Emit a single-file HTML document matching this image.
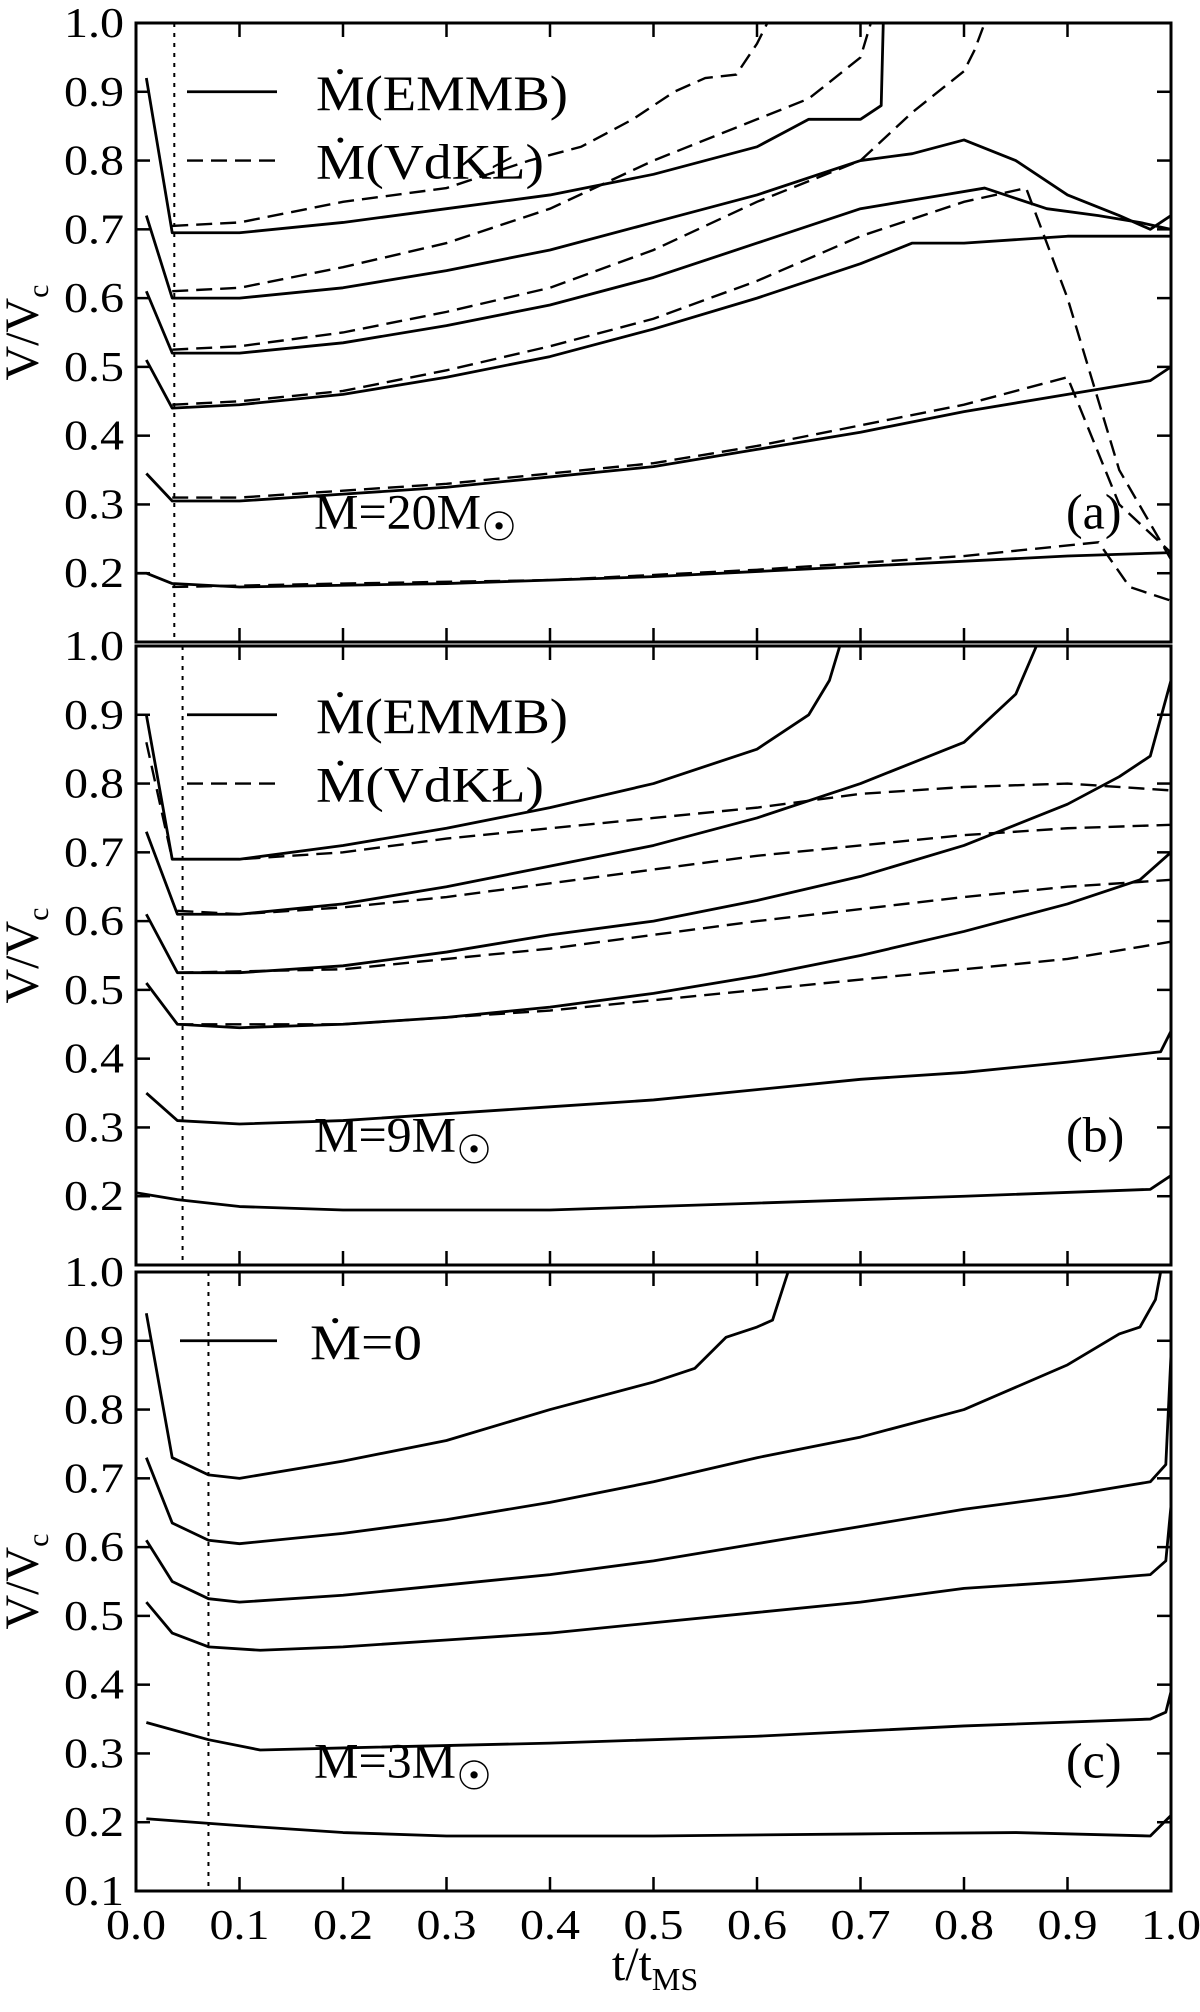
<!DOCTYPE html>
<html><head><meta charset="utf-8"><style>
html,body{margin:0;padding:0;background:#fff;}
svg{display:block;font-family:"Liberation Serif",serif;}
</style></head><body>
<svg id="chart" width="1200" height="2012" viewBox="0 0 1200 2012" xmlns="http://www.w3.org/2000/svg"></svg>
<script>
const xTicks=[0,0.1,0.2,0.3,0.4,0.5,0.6,0.7,0.8,0.9,1.0];
const xTickLabels=["0.0","0.1","0.2","0.3","0.4","0.5","0.6","0.7","0.8","0.9","1.0"];
const yTicks=[0.1,0.2,0.3,0.4,0.5,0.6,0.7,0.8,0.9,1.0];
const yTickLabels=["0.1","0.2","0.3","0.4","0.5","0.6","0.7","0.8","0.9","1.0"];
const panelNames=["a","b","c"];
const panelMass=["20","9","3"];
const dottedX=[0.037,0.045,0.07];
const aSolid=[
[[0.01,0.92],[0.035,0.695],[0.1,0.695],[0.2,0.71],[0.3,0.73],[0.4,0.75],[0.5,0.78],[0.6,0.82],[0.65,0.86],[0.7,0.86],[0.72,0.88],[0.722,1.0]],
[[0.01,0.72],[0.035,0.60],[0.1,0.6],[0.2,0.615],[0.3,0.64],[0.4,0.67],[0.5,0.71],[0.6,0.75],[0.7,0.80],[0.75,0.81],[0.8,0.83],[0.85,0.8],[0.9,0.75],[0.95,0.72],[0.98,0.70],[1.0,0.72]],
[[0.01,0.61],[0.035,0.52],[0.1,0.52],[0.2,0.535],[0.3,0.56],[0.4,0.59],[0.5,0.63],[0.6,0.68],[0.7,0.73],[0.78,0.75],[0.82,0.76],[0.88,0.73],[0.93,0.72],[0.97,0.71],[1.0,0.70]],
[[0.01,0.51],[0.035,0.44],[0.1,0.445],[0.2,0.46],[0.3,0.485],[0.4,0.515],[0.5,0.555],[0.6,0.60],[0.7,0.65],[0.75,0.68],[0.8,0.68],[0.9,0.69],[1.0,0.69]],
[[0.01,0.345],[0.035,0.305],[0.1,0.305],[0.2,0.315],[0.3,0.325],[0.4,0.34],[0.5,0.355],[0.6,0.38],[0.7,0.405],[0.8,0.435],[0.9,0.46],[0.98,0.48],[1.0,0.5]],
[[0.0,0.2],[0.01,0.2],[0.035,0.185],[0.1,0.18],[0.3,0.185],[0.5,0.195],[0.7,0.21],[0.9,0.225],[1.0,0.23]]];
const aDashed=[
[[0.035,0.705],[0.1,0.71],[0.2,0.74],[0.3,0.76],[0.38,0.8],[0.43,0.82],[0.48,0.86],[0.52,0.9],[0.55,0.92],[0.58,0.925],[0.6,0.97],[0.61,1.0]],
[[0.035,0.61],[0.1,0.615],[0.2,0.645],[0.3,0.68],[0.4,0.73],[0.5,0.8],[0.6,0.86],[0.65,0.89],[0.7,0.95],[0.71,1.0]],
[[0.035,0.525],[0.1,0.53],[0.2,0.55],[0.3,0.58],[0.4,0.615],[0.5,0.67],[0.6,0.74],[0.7,0.80],[0.75,0.87],[0.8,0.93],[0.81,0.96],[0.82,1.0]],
[[0.035,0.445],[0.1,0.45],[0.2,0.465],[0.3,0.495],[0.4,0.53],[0.5,0.57],[0.6,0.625],[0.7,0.69],[0.8,0.74],[0.86,0.76],[0.9,0.6],[0.95,0.35],[1.0,0.22]],
[[0.035,0.31],[0.1,0.31],[0.2,0.32],[0.3,0.33],[0.4,0.345],[0.5,0.36],[0.6,0.385],[0.7,0.415],[0.8,0.445],[0.9,0.485],[0.95,0.3],[1.0,0.23]],
[[0.035,0.18],[0.2,0.185],[0.4,0.19],[0.6,0.205],[0.8,0.225],[0.93,0.245],[0.96,0.18],[1.0,0.16]]];
const bSolid=[
[[0.01,0.9],[0.035,0.69],[0.1,0.69],[0.2,0.71],[0.3,0.735],[0.4,0.765],[0.5,0.8],[0.6,0.85],[0.65,0.9],[0.67,0.95],[0.68,1.0]],
[[0.01,0.73],[0.04,0.61],[0.1,0.61],[0.2,0.625],[0.3,0.65],[0.4,0.68],[0.5,0.71],[0.6,0.75],[0.7,0.8],[0.8,0.86],[0.85,0.93],[0.87,1.0]],
[[0.01,0.61],[0.04,0.525],[0.1,0.525],[0.2,0.535],[0.3,0.555],[0.4,0.58],[0.5,0.6],[0.6,0.63],[0.7,0.665],[0.8,0.71],[0.9,0.77],[0.95,0.81],[0.98,0.84],[1.0,0.95]],
[[0.01,0.51],[0.04,0.45],[0.1,0.445],[0.2,0.45],[0.3,0.46],[0.4,0.475],[0.5,0.495],[0.6,0.52],[0.7,0.55],[0.8,0.585],[0.9,0.625],[0.97,0.66],[1.0,0.7]],
[[0.01,0.35],[0.04,0.31],[0.1,0.305],[0.2,0.31],[0.3,0.32],[0.4,0.33],[0.5,0.34],[0.6,0.355],[0.7,0.37],[0.8,0.38],[0.9,0.395],[0.99,0.41],[1.0,0.44]],
[[0.0,0.205],[0.04,0.195],[0.1,0.185],[0.2,0.18],[0.4,0.18],[0.6,0.19],[0.8,0.2],[0.98,0.21],[1.0,0.23]]];
const bDashed=[
[[0.01,0.86],[0.035,0.69],[0.1,0.69],[0.2,0.7],[0.3,0.72],[0.4,0.735],[0.5,0.75],[0.6,0.765],[0.7,0.785],[0.8,0.795],[0.9,0.8],[1.0,0.79]],
[[0.04,0.615],[0.1,0.61],[0.2,0.62],[0.3,0.635],[0.4,0.655],[0.5,0.675],[0.6,0.695],[0.7,0.71],[0.8,0.725],[0.9,0.735],[1.0,0.74]],
[[0.04,0.525],[0.2,0.53],[0.4,0.56],[0.6,0.6],[0.8,0.635],[0.9,0.65],[1.0,0.66]],
[[0.04,0.45],[0.2,0.45],[0.4,0.47],[0.6,0.5],[0.8,0.53],[0.9,0.545],[1.0,0.57]]];
const cSolid=[
[[0.01,0.94],[0.035,0.73],[0.07,0.705],[0.1,0.7],[0.2,0.725],[0.3,0.755],[0.4,0.8],[0.5,0.84],[0.54,0.86],[0.57,0.905],[0.6,0.92],[0.615,0.93],[0.63,1.0]],
[[0.01,0.73],[0.035,0.635],[0.07,0.61],[0.1,0.605],[0.2,0.62],[0.3,0.64],[0.4,0.665],[0.5,0.695],[0.6,0.73],[0.7,0.76],[0.8,0.8],[0.9,0.865],[0.95,0.91],[0.97,0.92],[0.985,0.96],[0.99,1.0]],
[[0.01,0.61],[0.035,0.55],[0.07,0.525],[0.1,0.52],[0.2,0.53],[0.3,0.545],[0.4,0.56],[0.5,0.58],[0.6,0.605],[0.7,0.63],[0.8,0.655],[0.9,0.675],[0.98,0.695],[0.995,0.72],[1.0,0.88]],
[[0.01,0.52],[0.035,0.475],[0.07,0.455],[0.12,0.45],[0.2,0.455],[0.3,0.465],[0.4,0.475],[0.5,0.49],[0.6,0.505],[0.7,0.52],[0.8,0.54],[0.9,0.55],[0.98,0.56],[0.995,0.58],[1.0,0.66]],
[[0.01,0.345],[0.07,0.32],[0.12,0.305],[0.2,0.308],[0.4,0.315],[0.6,0.325],[0.8,0.34],[0.98,0.35],[0.995,0.36],[1.0,0.39]],
[[0.01,0.205],[0.1,0.195],[0.2,0.185],[0.3,0.18],[0.5,0.18],[0.7,0.183],[0.85,0.185],[0.98,0.18],[1.0,0.21]]];
const solidSets=[aSolid,bSolid,cSolid];
const dashedSets=[aDashed,bDashed,[]];

const NS="http://www.w3.org/2000/svg";
const svg=document.getElementById('chart');
const X0=136,X1=1171;
const panelTop=[23,646,1272];
const PH=619;
function sx(v){return X0+(X1-X0)*v;}
function syFor(p){return v=>panelTop[p]+PH*(1.0-v)/0.9;}
function mk(tag,attrs,parent){const e=document.createElementNS(NS,tag);for(const k in attrs)e.setAttribute(k,attrs[k]);(parent||svg).appendChild(e);return e;}

for(let p=0;p<3;p++){
  const sy=syFor(p);
  const g=mk('g',{});
  
  
  const dl=mk('line',{x1:sx(dottedX[p]),x2:sx(dottedX[p]),y1:sy(1.0),y2:sy(0.1),stroke:'#000','stroke-width':2,'stroke-dasharray':'4,6'},g);
  
  
  solidSets[p].forEach((s,i)=>{
    const pl=mk('polyline',{points:s.map(q=>sx(q[0])+','+sy(q[1])).join(' '),fill:'none',stroke:'#000','stroke-width':2.8,'stroke-linejoin':'round'},g);
    
    
  });
  dashedSets[p].forEach((s,i)=>{
    const pl=mk('polyline',{points:s.map(q=>sx(q[0])+','+sy(q[1])).join(' '),fill:'none',stroke:'#000','stroke-width':2.4,'stroke-dasharray':'16,8'},g);
    
    
  });
  const fr=mk('rect',{x:X0,y:sy(1.0),width:X1-X0,height:PH,fill:'none',stroke:'#000','stroke-width':3},g);
  
  
  xTicks.forEach(t=>{
    mk('line',{x1:sx(t),x2:sx(t),y1:sy(1.0),y2:sy(1.0)+14,stroke:'#000','stroke-width':2.5},g);
    mk('line',{x1:sx(t),x2:sx(t),y1:sy(0.1),y2:sy(0.1)-14,stroke:'#000','stroke-width':2.5},g);
  });
  yTicks.forEach((t,i)=>{
    mk('line',{x1:X0,x2:X0+14,y1:sy(t),y2:sy(t),stroke:'#000','stroke-width':2.5},g);
    mk('line',{x1:X1,x2:X1-14,y1:sy(t),y2:sy(t),stroke:'#000','stroke-width':2.5},g);
    if(t<0.15 && p<2) return;
    const tx=mk('text',{x:X0-12,y:sy(t)+14,'text-anchor':'end','font-size':42,textLength:60,lengthAdjust:'spacingAndGlyphs'},g);
    tx.textContent=yTickLabels[i];
    
    
  });
  const yt=mk('text',{x:0,y:0,'font-size':48,'text-anchor':'middle',transform:`translate(38,${sy(0.55)}) rotate(-90)`},g);
  yt.innerHTML='V/V<tspan font-size="30" dy="10">c</tspan>';
  
  
  const ml=mk('text',{x:314,y:sy(0.265),'font-size':50},g);
  ml.innerHTML='M='+panelMass[p]+'M<tspan font-size="40" dy="12">☉</tspan>';
  
  
  const pn=mk('text',{x:1066,y:sy(0.265),'font-size':50},g);
  pn.textContent='('+panelNames[p]+')';
  
  
  const leg=mk('g',{},g);
  
  
  if(p<2){
    mk('line',{x1:187,x2:277,y1:sy(0.9),y2:sy(0.9),stroke:'#000','stroke-width':2.8},leg);
    const t1=mk('text',{x:316,y:sy(0.9)+18,'font-size':50,textLength:252,lengthAdjust:'spacingAndGlyphs'},leg);
    t1.textContent='Ṁ(EMMB)';
    
    
    mk('line',{x1:187,x2:277,y1:sy(0.8),y2:sy(0.8),stroke:'#000','stroke-width':2.4,'stroke-dasharray':'16,8'},leg);
    const t2=mk('text',{x:316,y:sy(0.8)+18,'font-size':50,textLength:228,lengthAdjust:'spacingAndGlyphs'},leg);
    t2.textContent='Ṁ(VdKŁ)';
    
    
  } else {
    mk('line',{x1:180,x2:277,y1:sy(0.9),y2:sy(0.9),stroke:'#000','stroke-width':2.8},leg);
    const t1=mk('text',{x:310,y:sy(0.9)+18,'font-size':50,textLength:112,lengthAdjust:'spacingAndGlyphs'},leg);
    t1.textContent='Ṁ=0';
    
    
  }
}
const syc=syFor(2);
xTicks.forEach((t,i)=>{
  const tx=mk('text',{x:sx(t),y:syc(0.1)+48,'text-anchor':'middle','font-size':42,textLength:60,lengthAdjust:'spacingAndGlyphs'});
  tx.textContent=xTickLabels[i];
  
  
});
const xt=mk('text',{x:655,y:1980,'text-anchor':'middle','font-size':48});
xt.innerHTML='t/t<tspan font-size="32" dy="10">MS</tspan>';


</script>
</body></html>
